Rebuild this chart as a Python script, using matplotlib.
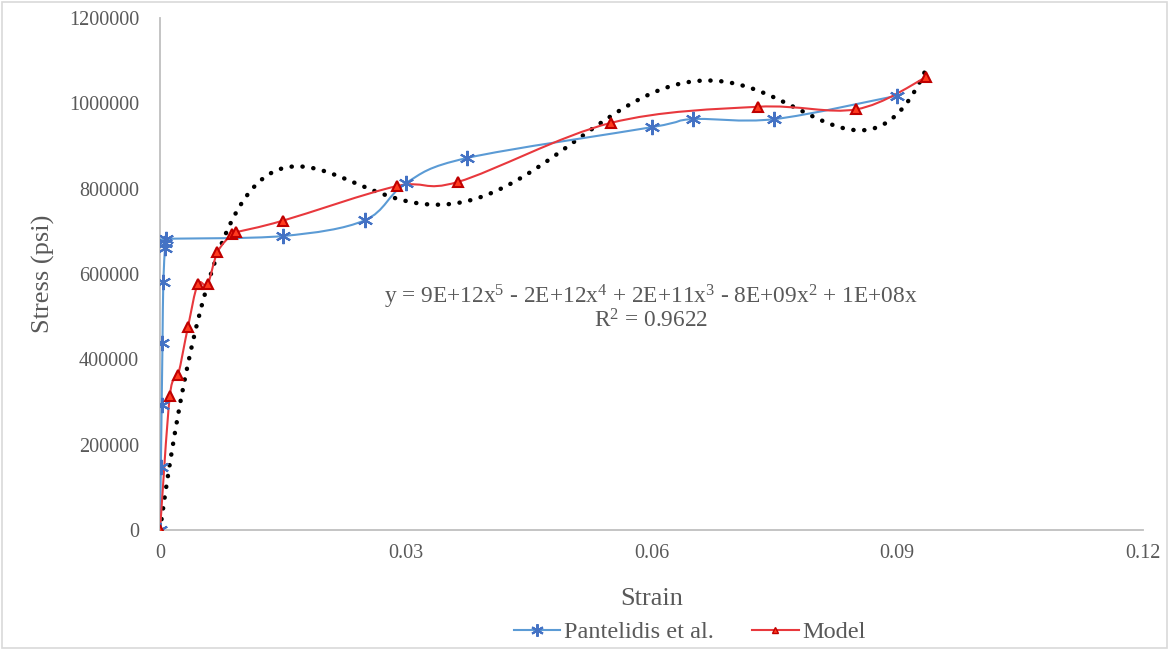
import numpy as np
import matplotlib.pyplot as plt
from matplotlib.path import Path
from matplotlib.patches import PathPatch, Rectangle
from matplotlib.lines import Line2D

# Pantelidis et al. (experimental) data
pant_strain = [0.0, 0.0001, 0.0002, 0.0003, 0.0004, 0.0006, 0.0006, 0.0007,
               0.015, 0.025, 0.030, 0.0375, 0.060, 0.065, 0.075, 0.090]
pant_stress = [0, 147000, 293000, 438000, 581000, 660000, 672000, 682000,
               689000, 726000, 813000, 872000, 944000, 963000, 963000, 1018000]

# Model data
model_strain = [0.0, 0.0012, 0.0022, 0.0034, 0.0046, 0.0058, 0.0070, 0.0088, 0.0093,
                0.015, 0.0289, 0.0364, 0.055, 0.073, 0.085, 0.0935]
model_stress = [0, 315000, 363000, 475000, 576000, 576000, 651000, 694000, 698000,
                725000, 806000, 816000, 954000, 992000, 986000, 1061000]

x_ticks = [0, 0.03, 0.06, 0.09, 0.12]
y_ticks = [0, 200000, 400000, 600000, 800000, 1000000, 1200000]

eq_text = "y = 9E+12x$^5$ - 2E+12x$^4$ + 2E+11x$^3$ - 8E+09x$^2$ + 1E+08x\nR$^2$ = 0.9622"

plt.rcParams['font.family'] = ['Liberation Serif', 'DejaVu Serif']
plt.rcParams['mathtext.fontset'] = 'custom'
plt.rcParams['mathtext.rm'] = 'Liberation Serif'
plt.rcParams['mathtext.it'] = 'Liberation Serif'
grey = '#595959'


def smooth_path(xs, ys):
    # Excel style smoothed line: Catmull-Rom converted to cubic Bezier
    pts = np.column_stack([xs, ys]).astype(float)
    n = len(pts)
    verts = [pts[0]]
    codes = [Path.MOVETO]
    for i in range(n - 1):
        p0 = pts[i - 1] if i > 0 else pts[i]
        p1 = pts[i]
        p2 = pts[i + 1]
        p3 = pts[i + 2] if i + 2 < n else pts[i + 1]
        c1 = p1 + (p2 - p0) / 6.0
        c2 = p2 - (p3 - p1) / 6.0
        verts += [c1, c2, p2]
        codes += [Path.CURVE4] * 3
    return Path(verts, codes)


fig = plt.figure(figsize=(11.69, 6.5), dpi=100)
ax = fig.add_axes([0.1369, 0.1846, 0.8409, 0.7877])

# smoothed series lines
ax.add_patch(PathPatch(smooth_path(pant_strain, pant_stress), facecolor='none',
                       edgecolor='#5B9BD5', lw=1.5, zorder=3))
ax.add_patch(PathPatch(smooth_path(model_strain, model_stress), facecolor='none',
                       edgecolor='#E8383D', lw=1.5, zorder=3))

# polynomial trendline (order 5, intercept 0) on the model data
mx = np.array(model_strain)
my = np.array(model_stress, dtype=float)
A = np.column_stack([mx ** k for k in range(1, 6)])
coef = np.linalg.lstsq(A, my, rcond=None)[0]
tx = np.linspace(0, max(model_strain), 300)
ty = np.column_stack([tx ** k for k in range(1, 6)]) @ coef
ax.plot(tx, ty, color='black', lw=3.2, linestyle=(0, (0.05, 2.4)),
        dash_capstyle='round', zorder=2)

# markers
ax.plot(pant_strain, pant_stress, linestyle='none', marker=(6, 2, 0), markersize=11,
        markeredgecolor='#4472C4', markeredgewidth=1.5, zorder=4)
ax.plot(model_strain, model_stress, linestyle='none', marker='^', markersize=7.5,
        markerfacecolor='#FF3B1F', markeredgecolor='#C00000', markeredgewidth=1.5, zorder=5)

ax.set_xlim(0, 0.12)
ax.set_ylim(0, 1200000)
ax.set_xticks(x_ticks)
ax.set_xticklabels(['0', '0.03', '0.06', '0.09', '0.12'])
ax.set_yticks(y_ticks)
ax.set_yticklabels([str(v) for v in y_ticks])
ax.tick_params(length=0, labelsize=14.5, labelcolor=grey)
ax.tick_params(axis='y', pad=15)
ax.tick_params(axis='x', pad=10)
for s in ['top', 'right']:
    ax.spines[s].set_visible(False)
for s in ['left', 'bottom']:
    ax.spines[s].set_color('#bfbfbf')
    ax.spines[s].set_linewidth(1.3)

ax.set_xlabel('Strain', fontsize=19, color=grey, labelpad=18)
ax.set_ylabel('Stress (psi)', fontsize=19, color=grey, labelpad=10)

ax.text(0.0599, 521000, eq_text, fontsize=16.8, color=grey, ha='center', va='center',
        linespacing=0.95)

handles = [Line2D([], [], color='#5B9BD5', lw=1.5, marker=(6, 2, 0), markersize=9,
                  markeredgecolor='#4472C4', markeredgewidth=1.5),
           Line2D([], [], color='#E8383D', lw=1.5, marker='^', markersize=5,
                  markerfacecolor='#FF3B1F', markeredgecolor='#C00000')]
fig.legend(handles, ['Pantelidis et al.', 'Model'], loc='center', bbox_to_anchor=(0.59, 0.027),
           ncol=2, frameon=False, fontsize=17.5, labelcolor=grey, handlelength=1.9,
           handletextpad=0.15, columnspacing=1.6)

fig.add_artist(Rectangle((0.002, 0.003), 0.996, 0.994, transform=fig.transFigure,
                         fill=False, edgecolor='#d9d9d9', lw=1.2))

fig.savefig('out.png', dpi=100)
